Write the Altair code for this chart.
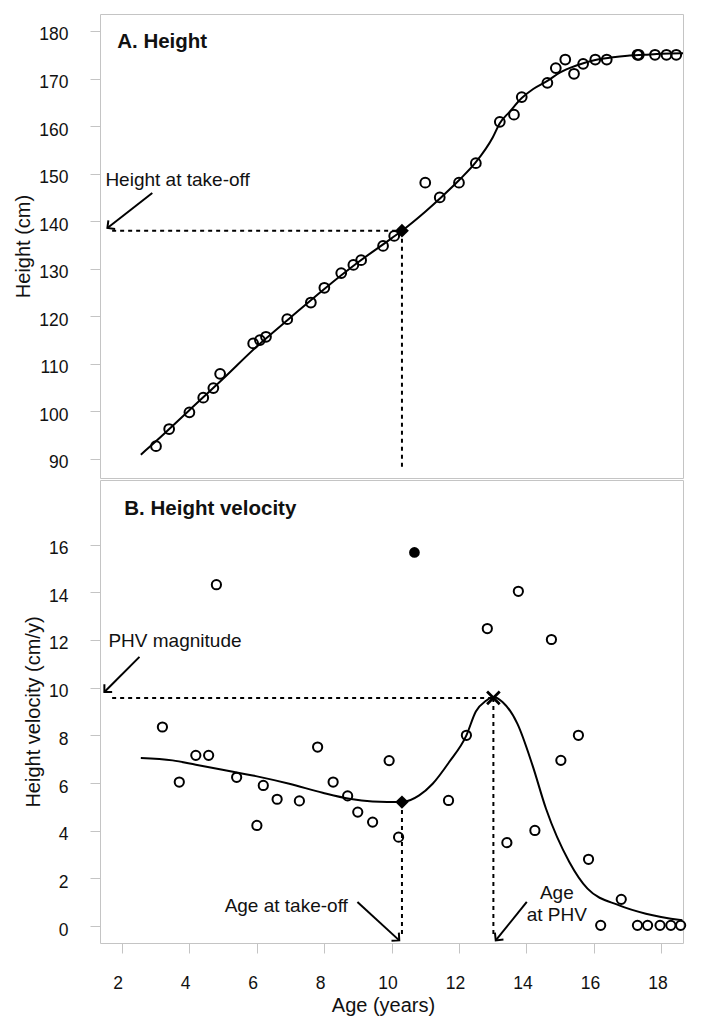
import altair as alt
import pandas as pd

FONT = "Liberation Sans"

# ---------------- data ----------------
age_ticks = [2, 4, 6, 8, 10, 12, 14, 16, 18]
height_ticks = [90, 100, 110, 120, 130, 140, 150, 160, 170, 180]
vel_ticks = [0, 2, 4, 6, 8, 10, 12, 14, 16]

# Panel A: observed heights
obs_age = [3.02, 3.41, 4.01, 4.42, 4.72, 4.92, 5.90, 6.10, 6.28, 6.91, 7.61, 8.01,
           8.51, 8.87, 9.10, 9.75, 10.08, 11.00, 11.43, 12.00, 12.50, 13.21, 13.63,
           13.86, 14.62, 14.87, 15.15, 15.41, 15.68, 16.04, 16.38, 17.29, 17.33,
           17.81, 18.15, 18.44]
obs_height = [92.7, 96.3, 99.8, 102.9, 104.9, 107.9, 114.3, 115.0, 115.7, 119.4, 122.9,
              126.0, 129.1, 130.8, 131.8, 134.8, 136.9, 148.1, 145.0, 148.1, 152.2,
              160.9, 162.4, 166.1, 169.1, 172.2, 174.0, 171.0, 173.1, 174.0, 174.0,
              175.0, 175.0, 175.0, 175.0, 175.0]

# Panel A: fitted curve
fit_age = [2.57, 3.0, 4.0, 5.0, 6.0, 7.0, 8.0, 9.0, 10.0, 10.31, 11.0, 11.5, 12.0,
           12.5, 13.0, 13.21, 13.5, 13.86, 14.2, 14.62, 15.0, 15.5, 16.04, 16.5, 17.0,
           17.5, 18.0, 18.64]
fit_height = [90.9, 93.6, 100.2, 106.8, 113.6, 119.7, 125.7, 131.3, 136.4, 138.0, 142.0,
              145.2, 148.6, 152.4, 157.6, 160.6, 163.0, 165.9, 167.8, 169.5, 171.3, 172.8,
              173.9, 174.4, 174.8, 175.0, 175.2, 175.3]

# Panel B: observed velocities
vel_age = [3.21, 3.71, 4.20, 4.58, 4.81, 5.41, 6.01, 6.20, 6.61, 7.27, 7.81, 8.27, 8.70,
           9.00, 9.44, 9.93, 10.21, 11.69, 12.22, 12.84, 13.42, 13.76, 14.25, 14.74,
           15.02, 15.54, 15.84, 16.20, 16.81, 17.29, 17.59, 17.96, 18.28, 18.57]
vel_value = [8.35, 6.04, 7.16, 7.16, 14.32, 6.24, 4.22, 5.90, 5.32, 5.25, 7.51, 6.04, 5.46,
             4.78, 4.36, 6.94, 3.73, 5.27, 8.00, 12.48, 3.50, 14.04, 4.01, 12.02, 6.95,
             8.00, 2.80, 0.03, 1.12, 0.03, 0.03, 0.03, 0.03, 0.03]
outlier_age = [10.68]
outlier_value = [15.67]

# Panel B: fitted velocity curve
vfit_age = [2.57, 3.51, 4.20, 4.99, 5.98, 6.97, 7.96, 8.75, 9.44, 10.31, 10.82, 11.22,
            11.71, 12.22, 12.50, 12.80, 13.02, 13.29, 13.73, 14.18, 14.58, 15.27, 15.81,
            16.75, 17.54, 18.62]
vfit_value = [7.05, 6.95, 6.77, 6.56, 6.29, 5.97, 5.59, 5.34, 5.23, 5.20, 5.48, 5.97, 6.88,
              8.00, 9.00, 9.45, 9.61, 9.40, 8.49, 6.74, 4.92, 2.69, 1.57, 0.87, 0.52, 0.24]

# Key values
takeoff_age = 10.31
takeoff_height = 138.0
takeoff_vel = 5.20
phv_age = 13.02
phv_value = 9.57

# Reference-line ends (data units)
a_dash = dict(x=[1.72, takeoff_age], x2=[takeoff_age, takeoff_age],
              y=[takeoff_height, takeoff_height], y2=[takeoff_height, 88.3])
b_dash = dict(x=[1.72, takeoff_age, phv_age], x2=[phv_age, takeoff_age, phv_age],
              y=[phv_value, takeoff_vel, phv_value], y2=[phv_value, -0.46, -0.46])

# Annotation arrows (tail -> tip) in data units
a_arrow = dict(x=[2.91], y=[145.93], x2=[1.58], y2=[138.58], ang=[142])
b_arrow = dict(x=[2.53, 8.99, 14.01], y=[11.29, 1.01, 1.01],
               x2=[1.49, 10.23, 13.09], y2=[9.82, -0.60, -0.60], ang=[135, 42, 129])

# Texts
a_text = dict(x=[1.52], y=[148.7], t=["Height at take-off"])
b_text_left = dict(x=[1.61], y=[11.96], t=["PHV magnitude"])
b_text_center = dict(x=[6.88, 14.9, 14.9], y=[0.84, 1.38, 0.46],
                     t=["Age at take-off", "Age", "at PHV"])
a_title = dict(x=[1.87], y=[177.7], t=["A. Height"])
b_title = dict(x=[2.08], y=[17.50], t=["B. Height velocity"])

# ---------------- scales ----------------
X_DOM = [1.36, 18.64]
YA_DOM = [86.0, 183.57]
YB_DOM = [-0.71, 18.71]
W = 583

xs = alt.Scale(domain=X_DOM, nice=False, zero=False)
yas = alt.Scale(domain=YA_DOM, nice=False, zero=False)
ybs = alt.Scale(domain=YB_DOM, nice=False, zero=False)

DASH = [4, 4]
CHEVRON = "M-1,-1L0,0L-1,1"
XMARK = "M-1,-1L1,1M-1,1L1,-1"
ann_text_size = 19

# ---------------- Panel A ----------------
ya_axis = alt.Axis(values=height_ticks, title="Height (cm)", labelPadding=22,
                   titlePadding=5, labelOffset=4)
XA = dict(scale=xs, axis=None)
YA = dict(scale=yas, axis=ya_axis)

a_dsh = alt.Chart(pd.DataFrame(a_dash)).mark_rule(
    strokeDash=DASH, strokeWidth=2, color="black").encode(
    x=alt.X("x:Q", **XA), x2="x2:Q", y=alt.Y("y:Q", **YA), y2="y2:Q")

a_fit = alt.Chart(pd.DataFrame({"age": fit_age, "h": fit_height})).mark_line(
    color="black", strokeWidth=2, interpolate="monotone").encode(
    x=alt.X("age:Q", **XA), y=alt.Y("h:Q", **YA))

a_obs = alt.Chart(pd.DataFrame({"age": obs_age, "h": obs_height})).mark_point(
    shape="circle", filled=False, size=95, strokeWidth=2, color="black", opacity=1).encode(
    x=alt.X("age:Q", **XA), y=alt.Y("h:Q", **YA))

a_dia = alt.Chart(pd.DataFrame({"age": [takeoff_age], "h": [takeoff_height]})).mark_point(
    shape="diamond", filled=True, size=190, color="black", opacity=1).encode(
    x=alt.X("age:Q", **XA), y=alt.Y("h:Q", **YA))

a_arr_df = pd.DataFrame(a_arrow)
a_shaft = alt.Chart(a_arr_df).mark_rule(strokeWidth=2, color="black").encode(
    x=alt.X("x:Q", **XA), x2="x2:Q", y=alt.Y("y:Q", **YA), y2="y2:Q")
a_head = alt.Chart(a_arr_df).mark_point(shape=CHEVRON, filled=False, size=120,
                                        strokeWidth=2, color="black", opacity=1).encode(
    x=alt.X("x2:Q", **XA), y=alt.Y("y2:Q", **YA), angle=alt.Angle("ang:Q", scale=None))

a_txt = alt.Chart(pd.DataFrame(a_text)).mark_text(
    align="left", baseline="middle", font=FONT, fontSize=ann_text_size, color="#111").encode(
    x=alt.X("x:Q", **XA), y=alt.Y("y:Q", **YA), text="t:N")

a_ttl = alt.Chart(pd.DataFrame(a_title)).mark_text(
    align="left", baseline="middle", font=FONT, fontSize=20.5, fontWeight="bold",
    color="#111").encode(x=alt.X("x:Q", **XA), y=alt.Y("y:Q", **YA), text="t:N")

panel_a = alt.layer(a_dsh, a_fit, a_obs, a_dia, a_shaft, a_head, a_txt, a_ttl).properties(
    width=W, height=464)

# ---------------- Panel B ----------------
xb_axis = alt.Axis(values=age_ticks, title="Age (years)", labelPadding=21, titlePadding=4,
                   labelOffset=-4, titleX=283)
yb_axis = alt.Axis(values=vel_ticks, title="Height velocity (cm/y)", labelPadding=22,
                   titlePadding=5, labelOffset=4)
XB = dict(scale=xs, axis=xb_axis)
YB = dict(scale=ybs, axis=yb_axis)

b_dsh = alt.Chart(pd.DataFrame(b_dash)).mark_rule(
    strokeDash=DASH, strokeWidth=2, color="black").encode(
    x=alt.X("x:Q", **XB), x2="x2:Q", y=alt.Y("y:Q", **YB), y2="y2:Q")

b_fit = alt.Chart(pd.DataFrame({"age": vfit_age, "v": vfit_value})).mark_line(
    color="black", strokeWidth=2, interpolate="monotone").encode(
    x=alt.X("age:Q", **XB), y=alt.Y("v:Q", **YB))

b_obs = alt.Chart(pd.DataFrame({"age": vel_age, "v": vel_value})).mark_point(
    shape="circle", filled=False, size=85, strokeWidth=2, color="black", opacity=1).encode(
    x=alt.X("age:Q", **XB), y=alt.Y("v:Q", **YB))

b_out = alt.Chart(pd.DataFrame({"age": outlier_age, "v": outlier_value})).mark_point(
    shape="circle", filled=True, size=115, color="black", opacity=1).encode(
    x=alt.X("age:Q", **XB), y=alt.Y("v:Q", **YB))

b_dia = alt.Chart(pd.DataFrame({"age": [takeoff_age], "v": [takeoff_vel]})).mark_point(
    shape="diamond", filled=True, size=180, color="black", opacity=1).encode(
    x=alt.X("age:Q", **XB), y=alt.Y("v:Q", **YB))

b_x = alt.Chart(pd.DataFrame({"age": [phv_age], "v": [phv_value]})).mark_point(
    shape=XMARK, filled=False, size=160, strokeWidth=2.8, color="black", opacity=1).encode(
    x=alt.X("age:Q", **XB), y=alt.Y("v:Q", **YB))

b_arr_df = pd.DataFrame(b_arrow)
b_shaft = alt.Chart(b_arr_df).mark_rule(strokeWidth=2, color="black").encode(
    x=alt.X("x:Q", **XB), x2="x2:Q", y=alt.Y("y:Q", **YB), y2="y2:Q")
b_head = alt.Chart(b_arr_df).mark_point(shape=CHEVRON, filled=False, size=120,
                                        strokeWidth=2, color="black", opacity=1).encode(
    x=alt.X("x2:Q", **XB), y=alt.Y("y2:Q", **YB), angle=alt.Angle("ang:Q", scale=None))

b_txt1 = alt.Chart(pd.DataFrame(b_text_left)).mark_text(
    align="left", baseline="middle", font=FONT, fontSize=ann_text_size, color="#111").encode(
    x=alt.X("x:Q", **XB), y=alt.Y("y:Q", **YB), text="t:N")
b_txt2 = alt.Chart(pd.DataFrame(b_text_center)).mark_text(
    align="center", baseline="middle", font=FONT, fontSize=ann_text_size, color="#111").encode(
    x=alt.X("x:Q", **XB), y=alt.Y("y:Q", **YB), text="t:N")

b_ttl = alt.Chart(pd.DataFrame(b_title)).mark_text(
    align="left", baseline="middle", font=FONT, fontSize=20.5, fontWeight="bold",
    color="#111").encode(x=alt.X("x:Q", **XB), y=alt.Y("y:Q", **YB), text="t:N")

panel_b = alt.layer(b_dsh, b_fit, b_obs, b_out, b_dia, b_x, b_shaft, b_head,
                    b_txt1, b_txt2, b_ttl).properties(width=W, height=463)

chart = alt.vconcat(panel_a, panel_b, spacing=0).properties(
    padding={"left": 5, "top": 5, "right": 5, "bottom": 5}
).configure_view(
    stroke="#c4c4c4", strokeWidth=1
).configure_axis(
    labelFont=FONT, titleFont=FONT, labelFontSize=17.5, titleFontSize=20,
    titleFontWeight="normal", labelColor="#111", titleColor="#111",
    tickColor="#c4c4c4", tickSize=10, tickWidth=1, domain=False, grid=False
)

chart.save("out.html", embed_options={"renderer": "svg", "actions": False})
